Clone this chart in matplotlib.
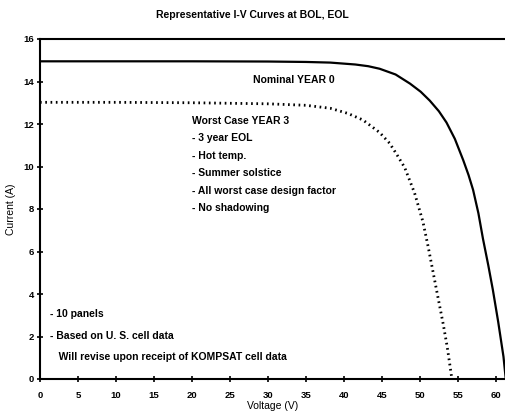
import matplotlib
matplotlib.use('Agg')
import matplotlib.pyplot as plt

plt.rcParams['font.family'] = ['Liberation Sans Narrow', 'Liberation Sans', 'DejaVu Sans']
plt.rcParams['font.weight'] = 'bold'

# 读图估计的 I-V 曲线数据
v_nominal = [0, 10, 20, 30, 35, 38.2, 41.5, 43.2, 44.7, 46.8, 48.7, 50.1, 51.3, 52.5, 53.5, 54.6, 55.7,
             56.4, 57.0, 57.7, 58.3, 59.0, 59.6, 60.3, 61.0, 61.3]
i_nominal = [14.95, 14.95, 14.95, 14.94, 14.92, 14.89, 14.8, 14.72, 14.6, 14.33, 13.9, 13.52, 13.1, 12.6, 12.07,
             11.3, 10.3, 9.6, 8.9, 7.8, 6.6, 5.35, 4.2, 2.7, 1.05, 0.0]

v_worst = [0, 10, 20, 30, 35, 38.2, 40.5, 42.5, 44.7, 46.0, 46.9, 48.0, 49.3, 50.4, 51.1,
           51.75, 52.4, 53.07, 53.6, 54.1, 54.2]
i_worst = [13.02, 13.02, 13.0, 12.95, 12.88, 12.74, 12.5, 12.19, 11.6, 11.1, 10.6, 9.95, 8.75, 7.4, 6.2,
           5.0, 3.8, 2.58, 1.5, 0.28, 0.0]

x_ticks = list(range(0, 61, 5))
y_ticks = list(range(0, 17, 2))

worst_notes = ['Worst Case YEAR 3', '- 3 year EOL', '- Hot temp.', '- Summer solstice',
               '- All worst case design factor', '- No shadowing']
bottom_notes = ['- 10 panels', '- Based on U. S. cell data', '   Will revise upon receipt of KOMPSAT cell data']

fig = plt.figure(figsize=(5.05, 4.18), dpi=100)
ax = fig.add_axes([40 / 505, 1 - 379 / 418, 1 - 40 / 505, (379 - 39) / 418])

ax.plot(v_nominal, i_nominal, color='black', linewidth=1.6)
ax.plot(v_worst, i_worst, color='black', linewidth=2.0, linestyle=(0, (0.6, 1.3)))

ax.set_xlim(0, 61.2)
ax.set_ylim(0, 16)
ax.set_xticks(x_ticks)
ax.set_yticks(y_ticks)
ax.tick_params(direction='inout', length=5, width=1.2, labelsize=6.8, pad=2)
ax.tick_params(axis='x', pad=6)
for s in ['left', 'bottom', 'top']:
    ax.spines[s].set_linewidth(1.5)
ax.spines['right'].set_visible(False)

ax.set_xlabel('Voltage (V)', fontsize=7.5, labelpad=1)
ax.set_ylabel('Current (A)', fontsize=7.5, labelpad=5)
fig.text(0.5, 0.963, 'Representative I-V Curves at BOL, EOL', ha='center', va='center', fontsize=7.5)

ax.text(28, 14.07, 'Nominal YEAR 0', fontsize=7.5, va='center')
for k, line in enumerate(worst_notes):
    ax.text(20, 12.14 - k * 0.82, line, fontsize=7.5, va='center')
for k, line in enumerate(bottom_notes):
    ax.text(1.3, 3.06 - k * 1.02, line, fontsize=7.5, va='center')

fig.savefig('out.png', dpi=100)
